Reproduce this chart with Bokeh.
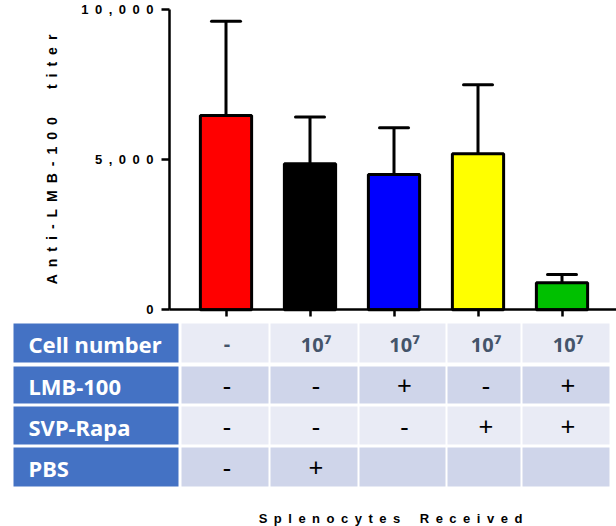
from bokeh.plotting import figure
from bokeh.models import ColumnDataSource, Range1d, LinearAxis, FixedTicker, Whisker, TeeHead
from bokeh.core.properties import value
from bokeh.embed import file_html
from bokeh.resources import INLINE

# ---------------- data ----------------
groups = ["Naive", "PBS", "LMB-100", "SVP-Rapa", "LMB-100 + SVP-Rapa"]
titer_mean = [6480, 4870, 4510, 5200, 900]
titer_sd = [3140, 1560, 1560, 2300, 280]
bar_colors = ["#FF0000", "#000000", "#0000FF", "#FFFF00", "#00C000"]
y_ticks = [0, 5000, 10000]
y_tick_labels = ["0", "5,000", "10,000"]
y_title = "Anti-LMB-100 titer"
x_title = "Splenocytes Received"

row_labels = ["Cell number", "LMB-100", "SVP-Rapa", "PBS"]
cell_number = ["-", "10\u2077", "10\u2077", "10\u2077", "10\u2077"]
lmb_100 = ["-", "-", "+", "-", "+"]
svp_rapa = ["-", "-", "-", "+", "+"]
pbs = ["-", "+", "", "", ""]

# ---------------- layout helpers (picture pixels -> data) ----------------
W, H = 616, 526
X0, DX = 225.5, 84.0      # px of first group centre, px per group
Y0, DY = 309.3, 0.03      # px of zero, px per titer unit


def xd(px):
    return 1 + (px - X0) / DX


def yd(py):
    return (Y0 - py) / DY


def spaced(s, word_gap=3):
    EN = "\u2002"
    return EN.join(EN * word_gap if c == " " else c for c in s)


p = figure(width=W, height=H, output_backend="svg", toolbar_location=None,
           x_range=Range1d(xd(0), xd(W)), y_range=Range1d(yd(H), yd(0)),
           x_axis_type=None, y_axis_type=None, min_border=0)
p.outline_line_color = None
p.background_fill_color = "white"
p.border_fill_color = "white"

xs = list(range(1, len(groups) + 1))
src = ColumnDataSource(dict(x=xs, top=titer_mean,
                            upper=[m + s for m, s in zip(titer_mean, titer_sd)],
                            color=bar_colors))

p.vbar(x="x", top="top", bottom=0, width=0.61, fill_color="color",
       line_color="black", line_width=3, source=src)

wh = Whisker(base="x", lower="top", upper="upper", source=src, dimension="height",
             line_width=3, line_color="black",
             upper_head=TeeHead(size=29, line_width=3, line_color="black", line_cap="round"),
             lower_head=None)
p.add_layout(wh)

# ---------------- axes ----------------
yaxis = LinearAxis(fixed_location=xd(169), bounds=(0, 10000),
                   ticker=FixedTicker(ticks=y_ticks),
                   major_label_overrides={t: spaced(l) for t, l in zip(y_ticks, y_tick_labels)},
                   axis_label=spaced(y_title, 2),
                   axis_label_text_font="Liberation Sans", axis_label_text_font_style="bold",
                   axis_label_text_font_size="14px", axis_label_standoff=18,
                   axis_label_text_color="black",
                   major_label_text_font="Liberation Sans", major_label_text_font_style="bold",
                   major_label_text_font_size="13px", major_label_standoff=8,
                   major_label_text_color="black",
                   axis_line_width=2.5, major_tick_line_width=2.5,
                   axis_line_color="black", major_tick_line_color="black",
                   major_tick_in=0, major_tick_out=8, minor_tick_out=0, minor_tick_in=0)
p.add_layout(yaxis, "left")

xaxis = LinearAxis(fixed_location=0, bounds=(xd(169), xd(W)),
                   ticker=FixedTicker(ticks=xs),
                   major_label_text_color=None,
                   axis_line_width=2.5, major_tick_line_width=2.5,
                   axis_line_color="black", major_tick_line_color="black",
                   major_tick_in=0, major_tick_out=7, minor_tick_out=0, minor_tick_in=0)
p.add_layout(xaxis, "below")

# ---------------- table ----------------
row_px = [(323, 362), (366, 403), (406, 444), (447, 486)]
head_px = (13, 178)
col_px = [(181, 268), (270, 357), (359, 445), (447, 520), (522, 609)]
row_fill = ["#E9EBF5", "#CFD5EA", "#E9EBF5", "#CFD5EA"]
rows = [cell_number, lmb_100, svp_rapa, pbs]

hl, hr, ht, hb = [], [], [], []
cl, cr, ct, cb, cf = [], [], [], [], []
for (t, b), fill in zip(row_px, row_fill):
    hl.append(xd(head_px[0])); hr.append(xd(head_px[1])); ht.append(yd(t)); hb.append(yd(b))
    for (l, r) in col_px:
        cl.append(xd(l)); cr.append(xd(r)); ct.append(yd(t)); cb.append(yd(b)); cf.append(fill)
p.quad(left=hl, right=hr, top=ht, bottom=hb, fill_color="#4472C4", line_color=None)
p.quad(left=cl, right=cr, top=ct, bottom=cb, fill_color=cf, line_color=None)

p.text(x=[xd(28)] * len(row_labels), y=[yd((t + b) / 2 + 1) for t, b in row_px], text=row_labels,
       text_font=value("Noto Sans"), text_font_style="bold", text_font_size="22px",
       text_color="white", text_align="left", text_baseline="middle")

col_c = [xd((l + r) / 2 + 2) for l, r in col_px]
# first row: bold, grey-blue
p.text(x=col_c, y=[yd(sum(row_px[0]) / 2 + 1)] * len(col_c), text=cell_number,
       text_font=value("Noto Sans"), text_font_style="bold", text_font_size="20px",
       text_color="#44546A", text_align="center", text_baseline="middle")
tx, ty, tt = [], [], []
for (t, b), vals in zip(row_px[1:], rows[1:]):
    for c, v in zip(col_c, vals):
        if v:
            tx.append(c); ty.append(yd((t + b) / 2 + 1)); tt.append(v)
p.text(x=tx, y=ty, text=tt, text_font=value("Noto Sans"), text_font_size="26px",
       text_color="black", text_align="center", text_baseline="middle")

p.text(x=[xd(390)], y=[yd(518)], text=[spaced(x_title, 1)],
       text_font=value("Liberation Sans"), text_font_style="bold", text_font_size="13px",
       text_color="black", text_align="center", text_baseline="alphabetic")

open("out.html", "w").write(file_html(p, INLINE))
